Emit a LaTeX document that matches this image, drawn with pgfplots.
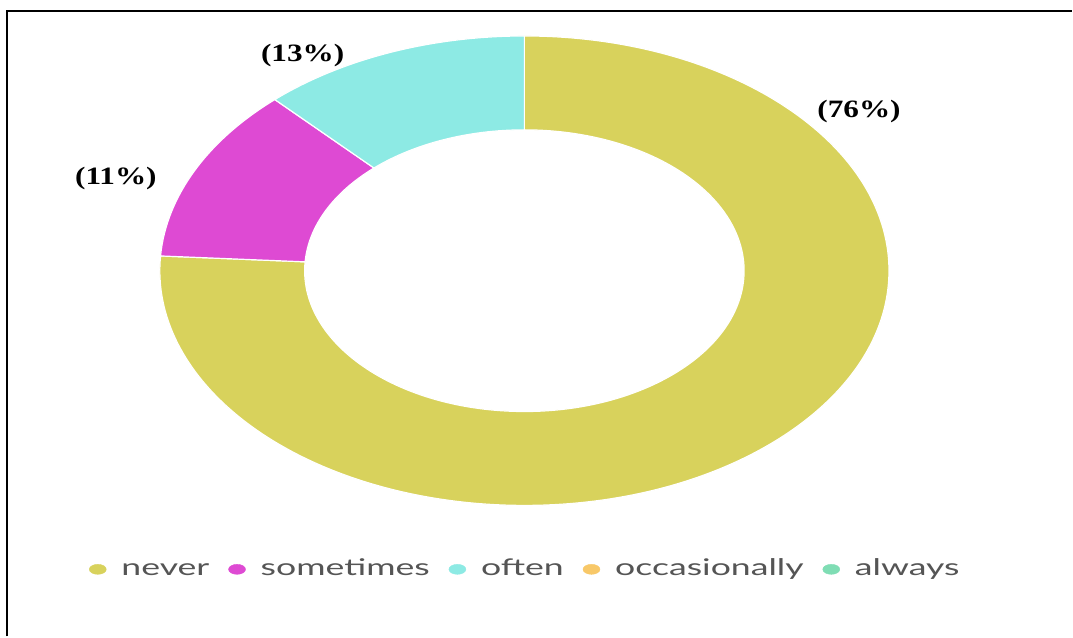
\documentclass[border=0pt]{standalone}
\usepackage{pgfplots}
\usepackage{pgfplotstable}
\pgfplotsset{compat=1.18}
\usepackage{fontspec}
\setmainfont{Liberation Serif}
\newfontfamily\lato{Lato}
\definecolor{cNever}{HTML}{D8D25C}
\definecolor{cSome}{HTML}{DE4AD3}
\definecolor{cOften}{HTML}{8DEAE4}
\definecolor{cOcc}{HTML}{F8C868}
\definecolor{cAlw}{HTML}{7FDDB4}
\definecolor{legendgray}{HTML}{555555}
\pgfplotstableread{
label value col
never 76 cNever
sometimes 12 cSome
often 12 cOften
occasionally 0 cOcc
always 0 cAlw
}\donutdata
\begin{document}
\begin{tikzpicture}
\begin{axis}[x=1pt,y=1pt,xmin=0,xmax=1073,ymin=0,ymax=637,hide axis,clip=false,
  legend style={at={(axis cs:86,67)}, anchor=west, draw=none, fill=none,
    font=\lato\fontsize{23}{28}\selectfont, text=legendgray,
    nodes={text height=11.6pt, text depth=0pt},
    /tikz/every odd column/.append style={column sep=13pt},
    /tikz/every even column/.append style={column sep=17pt}},
  legend columns=-1, legend cell align=left]
\fill[white] (axis cs:0,0) rectangle (axis cs:1073,637);
\def\cx{525}\def\cy{366}\def\rxo{365}\def\ryo{235}\def\rxi{220}\def\ryi{141}
\gdef\angstart{90}
\pgfplotsforeachungrouped \i in {0,...,4}{%
  \pgfplotstablegetelem{\i}{value}\of\donutdata
  \pgfmathsetmacro\val{\pgfplotsretval}%
  \pgfplotstablegetelem{\i}{col}\of\donutdata
  \let\slicecol\pgfplotsretval
  \pgfmathsetmacro\angend{\angstart-3.6*\val}%
  \pgfmathsetmacro\xa{\cx+\rxo*cos(\angstart)}%
  \pgfmathsetmacro\ya{\cy+\ryo*sin(\angstart)}%
  \pgfmathsetmacro\xb{\cx+\rxi*cos(\angend)}%
  \pgfmathsetmacro\yb{\cy+\ryi*sin(\angend)}%
  \ifdim\val pt>0pt
    \edef\cmd{\noexpand\fill[\slicecol, draw=white, line width=1.2pt] (axis cs:\xa,\ya) arc[start angle=\angstart, end angle=\angend, x radius=\rxo pt, y radius=\ryo pt] -- (axis cs:\xb,\yb) arc[start angle=\angend, end angle=\angstart, x radius=\rxi pt, y radius=\ryi pt] -- cycle;}%
    \cmd
  \fi
  \global\let\angstart\angend
}
\addlegendimage{legend image code/.code={\fill[cNever] (0pt,0pt) ellipse[x radius=8.5pt, y radius=5pt];}}
\addlegendentry{\scalebox{1.55}[1]{never}}
\addlegendimage{legend image code/.code={\fill[cSome] (0pt,0pt) ellipse[x radius=8.5pt, y radius=5pt];}}
\addlegendentry{\scalebox{1.55}[1]{sometimes}}
\addlegendimage{legend image code/.code={\fill[cOften] (0pt,0pt) ellipse[x radius=8.5pt, y radius=5pt];}}
\addlegendentry{\scalebox{1.55}[1]{often}}
\addlegendimage{legend image code/.code={\fill[cOcc] (0pt,0pt) ellipse[x radius=8.5pt, y radius=5pt];}}
\addlegendentry{\scalebox{1.55}[1]{occasionally}}
\addlegendimage{legend image code/.code={\fill[cAlw] (0pt,0pt) ellipse[x radius=8.5pt, y radius=5pt];}}
\addlegendentry{\scalebox{1.55}[1]{always}}
\node[font=\bfseries\fontsize{25}{30}\selectfont] at (axis cs:860,525) {\scalebox{1.25}[1]{(76\%)}};
\node[font=\bfseries\fontsize{25}{30}\selectfont] at (axis cs:303,581) {\scalebox{1.25}[1]{(13\%)}};
\node[font=\bfseries\fontsize{25}{30}\selectfont] at (axis cs:116,458) {\scalebox{1.25}[1]{(11\%)}};
\draw[line width=2.5pt, black] (axis cs:7,0) -- (axis cs:7,626) -- (axis cs:1073,626);
\end{axis}
\end{tikzpicture}
\end{document}
